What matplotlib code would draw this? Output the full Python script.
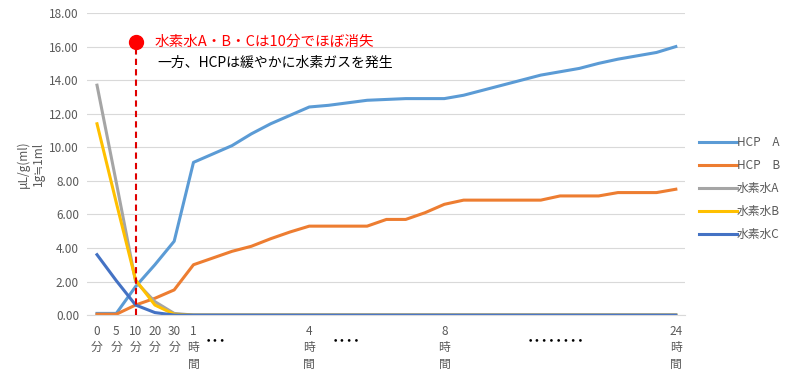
import matplotlib
matplotlib.use('Agg')
import matplotlib.pyplot as plt
import matplotlib.transforms as mtransforms
import numpy as np

plt.rcParams['font.family'] = ['Noto Sans CJK JP', 'DejaVu Sans']

# category labels (blank = unlabeled step)
tick_labels = ['0\n分', '5\n分', '10\n分', '20\n分', '30\n分', '1\n時\n間',
               '', '', '', '', '', '4\n時\n間',
               '', '', '', '', '', '', '8\n時\n間',
               '', '', '', '', '', '', '', '', '', '', '', '24\n時\n間']

hcp_a = [0.1, 0.1, 1.7, 3.0, 4.4, 9.1, 9.6, 10.1, 10.8, 11.4, 11.9, 12.4,
         12.5, 12.65, 12.8, 12.85, 12.9, 12.9, 12.9, 13.1, 13.4, 13.7, 14.0,
         14.3, 14.5, 14.7, 15.0, 15.25, 15.45, 15.65, 16.0]
hcp_b = [0.05, 0.05, 0.6, 1.0, 1.5, 3.0, 3.4, 3.8, 4.1, 4.55, 4.95, 5.3,
         5.3, 5.3, 5.3, 5.7, 5.7, 6.1, 6.6, 6.85, 6.85, 6.85, 6.85, 6.85,
         7.1, 7.1, 7.1, 7.3, 7.3, 7.3, 7.5]
water_a = [13.7, 7.9, 2.0, 0.8, 0.1] + [0.0] * 26
water_b = [11.4, 6.7, 2.1, 0.6, 0.05] + [0.0] * 26
water_c = [3.6, 2.05, 0.6, 0.15, 0.0] + [0.0] * 26

series = [
    ('HCP\u3000A', hcp_a, '#5B9BD5'),
    ('HCP\u3000B', hcp_b, '#ED7D31'),
    ('水素水A', water_a, '#A5A5A5'),
    ('水素水B', water_b, '#FFC000'),
    ('水素水C', water_c, '#4472C4'),
]

# gaps between labelled categories
gap_dots = [(6.14, 3), (12.93, 4), (23.78, 8)]

x = np.arange(len(tick_labels))

fig = plt.figure(figsize=(7.87, 3.72), dpi=100)
ax = fig.add_axes([0.111, 0.153, 0.76, 0.812])

for name, vals, color in series:
    ax.plot(x, vals, color=color, lw=2.2, label=name, solid_joinstyle='round')

ax.set_xlim(-0.5, len(tick_labels) - 0.5)
ax.set_ylim(0, 18)
ax.set_yticks(np.arange(0, 19, 2))
ax.set_yticklabels([f'{v:.2f}' for v in np.arange(0, 19, 2)])
ax.set_xticks(x)
ax.set_xticklabels(tick_labels, linespacing=1.35)
ax.tick_params(length=0, labelsize=8.5, labelcolor='#595959')
ax.tick_params(axis='x', pad=7)
ax.tick_params(axis='y', pad=6)
ax.grid(axis='y', color='#D9D9D9', lw=0.8)
ax.set_axisbelow(True)
for s in ['top', 'right', 'left']:
    ax.spines[s].set_visible(False)
ax.spines['bottom'].set_color('#D9D9D9')

ax.set_ylabel('μL/g(ml)\n1g≒1ml', color='#595959', fontsize=8.5, labelpad=3)

trans = mtransforms.blended_transform_factory(ax.transData, ax.transAxes)
for xd, n in gap_dots:
    ax.text(xd, -0.083, '･' * n, transform=trans, ha='center', va='center',
            fontsize=10.5, fontweight='bold', color='black')

# annotation
ax.vlines(2, 0, 16.3, colors='#E00000', linestyles=(0, (3, 2)), lw=1.5, zorder=5)
ax.plot([2], [16.3], 'o', color='#FF0000', ms=10, zorder=6)
ax.text(3.0, 16.27, '水素水A・B・Cは10分でほぼ消失', color='#FF0000',
        fontsize=10.5, va='center', ha='left')
ax.text(3.15, 15.05, '一方、HCPは緩やかに水素ガスを発生', color='black',
        fontsize=10, va='center', ha='left')

ax.legend(loc='center left', bbox_to_anchor=(1.005, 0.42), frameon=False,
          fontsize=8.5, handlelength=3.2, handletextpad=0.0,
          labelspacing=0.85, labelcolor='#595959')

fig.savefig('out.png', dpi=100)
